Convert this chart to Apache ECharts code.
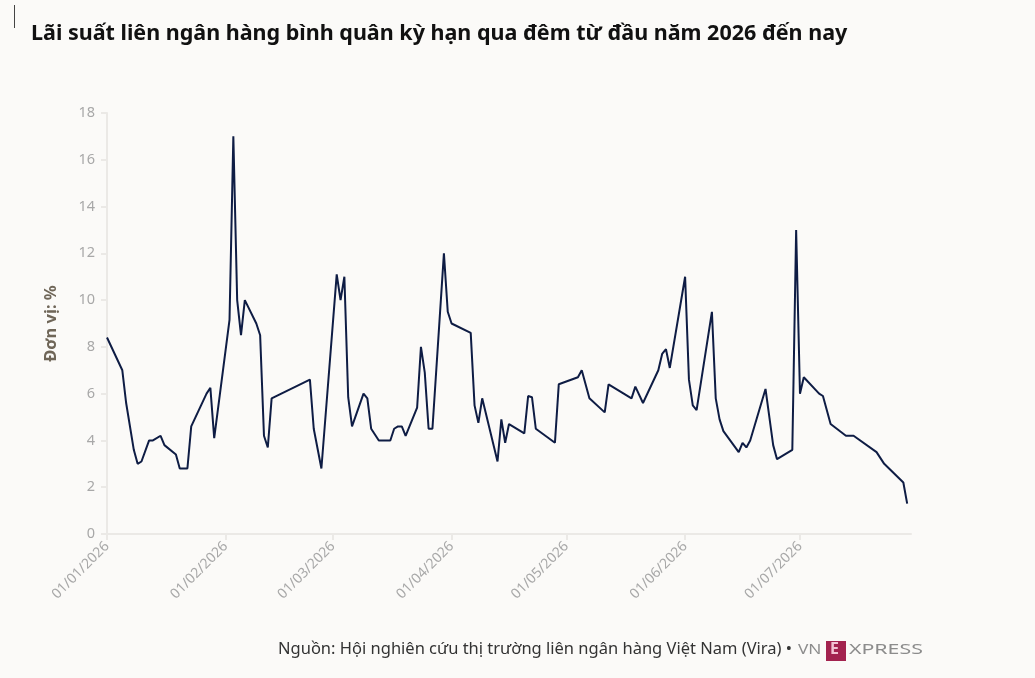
<!DOCTYPE html>
<html>
<head>
<meta charset="utf-8">
<script src="https://cdn.jsdelivr.net/npm/echarts@6/dist/echarts.min.js"></script>
<style>
  html, body { margin: 0; padding: 0; background: #fbfaf8; }
  #chart { width: 1035px; height: 678px; }
</style>
</head>
<body>
<div id="chart"></div>
<script>
var dates = ['2026-01-01','2026-01-05','2026-01-06','2026-01-08','2026-01-09','2026-01-10','2026-01-12','2026-01-13','2026-01-15','2026-01-16',
  '2026-01-19','2026-01-20','2026-01-22','2026-01-23','2026-01-27','2026-01-28','2026-01-29','2026-02-02','2026-02-03','2026-02-04',
  '2026-02-05','2026-02-06','2026-02-09','2026-02-10','2026-02-11','2026-02-12','2026-02-13','2026-02-23','2026-02-24','2026-02-26',
  '2026-03-02','2026-03-03','2026-03-04','2026-03-05','2026-03-06','2026-03-09','2026-03-10','2026-03-11','2026-03-13','2026-03-16',
  '2026-03-17','2026-03-18','2026-03-19','2026-03-20','2026-03-23','2026-03-24','2026-03-25','2026-03-26','2026-03-27','2026-03-30',
  '2026-03-31','2026-04-01','2026-04-06','2026-04-07','2026-04-08','2026-04-09','2026-04-13','2026-04-14','2026-04-15','2026-04-16',
  '2026-04-20','2026-04-21','2026-04-22','2026-04-23','2026-04-28','2026-04-29','2026-05-04','2026-05-05','2026-05-07','2026-05-11',
  '2026-05-12','2026-05-18','2026-05-19','2026-05-21','2026-05-25','2026-05-26','2026-05-27','2026-05-28','2026-06-01','2026-06-02',
  '2026-06-03','2026-06-04','2026-06-08','2026-06-09','2026-06-10','2026-06-11','2026-06-15','2026-06-16','2026-06-17','2026-06-18',
  '2026-06-22','2026-06-24','2026-06-25','2026-06-29','2026-06-30','2026-07-01','2026-07-02','2026-07-06','2026-07-07','2026-07-09',
  '2026-07-13','2026-07-15','2026-07-21','2026-07-23','2026-07-28','2026-07-29'];

var rates = [8.4, 7.0, 5.6, 3.6, 3.0, 3.1, 4.0, 4.0, 4.2, 3.8,
  3.4, 2.8, 2.8, 4.6, 6.0, 6.25, 4.1, 9.15, 17.0, 10.0,
  8.5, 10.0, 9.0, 8.5, 4.2, 3.7, 5.8, 6.6, 4.5, 2.8,
  11.1, 10.0, 11.0, 5.85, 4.6, 6.0, 5.8, 4.5, 4.0, 4.0,
  4.5, 4.6, 4.6, 4.2, 5.4, 8.0, 6.9, 4.5, 4.5, 12.0,
  9.5, 9.0, 8.6, 5.5, 4.75, 5.8, 3.1, 4.9, 3.9, 4.7,
  4.3, 5.9, 5.85, 4.5, 3.9, 6.4, 6.7, 7.0, 5.8, 5.2,
  6.4, 5.8, 6.3, 5.6, 7.0, 7.7, 7.9, 7.1, 11.0, 6.6,
  5.5, 5.3, 9.5, 5.8, 4.9, 4.4, 3.5, 3.9, 3.7, 4.0,
  6.2, 3.8, 3.2, 3.6, 13.0, 6.0, 6.7, 6.0, 5.9, 4.7,
  4.2, 4.2, 3.5, 3.0, 2.2, 1.3];

var yTicks = [0, 2, 4, 6, 8, 10, 12, 14, 16, 18];

var titleText = 'Lãi suất liên ngân hàng bình quân kỳ hạn qua đêm từ đầu năm 2026 đến nay';
var sourceText = 'Nguồn: Hội nghiên cứu thị trường liên ngân hàng Việt Nam (Vira) •';
var unitText = 'Đơn vị: %';

var FONT = '"Noto Sans", sans-serif';
var DAY = 24 * 3600 * 1000;

var seriesData = dates.map(function (d, i) { return [d, rates[i]]; });

var myChart = echarts.init(document.getElementById('chart'));

var option = {
    backgroundColor: '#fbfaf8',
    animation: false,
    textStyle: { fontFamily: FONT },
    title: {
        text: titleText,
        left: 26,
        top: 18,
        textStyle: { fontFamily: FONT, fontSize: 21.5, fontWeight: 'bold', color: '#111' }
    },
    grid: { left: 107, right: 124, top: 113, bottom: 144 },
    xAxis: {
        type: 'time',
        min: '2026-01-01',
        max: '2026-07-30',
        minInterval: 28 * DAY,
        maxInterval: 31 * DAY,
        axisLine: { lineStyle: { color: '#ebe9e6', width: 2 } },
        axisTick: { show: true, length: 6, lineStyle: { color: '#ebe9e6', width: 2 } },
        splitLine: { show: false },
        axisLabel: {
            rotate: 45,
            color: '#a8a8a8',
            fontSize: 14,
            fontFamily: FONT,
            margin: 10,
            showMaxLabel: false,
            formatter: function (v) { return echarts.time.format(v, '{dd}/{MM}/{yyyy}', false); }
        }
    },
    yAxis: {
        type: 'value',
        min: yTicks[0],
        max: yTicks[yTicks.length - 1],
        interval: 2,
        name: unitText,
        nameLocation: 'middle',
        nameGap: 47,
        nameRotate: 90,
        nameTextStyle: { fontFamily: FONT, fontSize: 16.5, fontWeight: 'bold', color: '#6f6658' },
        axisLine: { show: true, lineStyle: { color: '#ebe9e6', width: 2 } },
        axisTick: { show: true, length: 6, lineStyle: { color: '#ebe9e6', width: 2 } },
        splitLine: { show: false },
        axisLabel: { color: '#a8a8a8', fontSize: 14.5, fontFamily: FONT, margin: 12 }
    },
    series: [{
        type: 'line',
        data: seriesData,
        showSymbol: false,
        symbol: 'none',
        lineStyle: { color: '#0e1c44', width: 2 }
    }],
    graphic: [
        { type: 'line', shape: { x1: 14.5, y1: 5, x2: 14.5, y2: 28 }, style: { stroke: '#444', lineWidth: 1 } },
        { type: 'text', x: 278, y: 641, style: { text: sourceText, fontFamily: FONT, fontSize: 16.5, fill: '#333' } },
        { type: 'text', x: 798, y: 642, scaleX: 1.15, style: { text: 'VN', fontFamily: FONT, fontSize: 15, fill: '#8c8c8c' } },
        { type: 'rect', shape: { x: 826, y: 641, width: 20, height: 20 }, style: { fill: '#a3234f' } },
        { type: 'text', x: 830, y: 641, style: { text: 'E', fontFamily: FONT, fontSize: 16, fontWeight: 'bold', fill: '#f2c3d3' } },
        { type: 'text', x: 849, y: 642, scaleX: 1.42, style: { text: 'XPRESS', fontFamily: FONT, fontSize: 15, fill: '#8c8c8c' } }
    ]
};

myChart.setOption(option);
</script>
</body>
</html>
